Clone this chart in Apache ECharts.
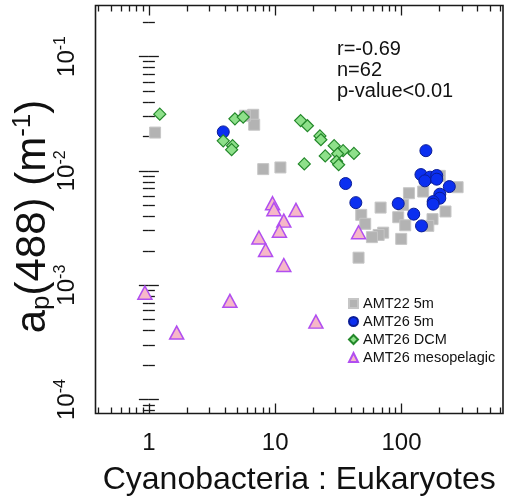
<!DOCTYPE html>
<html>
<head>
<meta charset="utf-8">
<script src="https://cdn.jsdelivr.net/npm/echarts@6/dist/echarts.min.js"></script>
<style>
  html, body { margin: 0; padding: 0; background: #fff; }
  #chart { width: 506px; height: 504px; }
</style>
</head>
<body>
<div id="chart"></div>
<script>
// Cyanobacteria : Eukaryotes ratio (x) against particulate absorption ap(488) in m^-1 (y)
const amt22_5m_ratio = [1.12, 6.7, 6.82, 5.75, 8.04, 11.0, 201, 278, 114.5, 148.5, 103, 68.3,
  48.0, 51.6, 94.2, 107, 176, 163, 223, 71.6, 65.9, 58.3, 99.5, 45.7];
const amt22_5m_ap = [0.0216, 0.0309, 0.0253, 0.0303, 0.01035, 0.0107, 0.00904, 0.00719, 0.00637,
  0.00659, 0.00504, 0.00477, 0.00412, 0.00344, 0.00393, 0.00334, 0.00378, 0.00330, 0.00441,
  0.00288, 0.00275, 0.00263, 0.00254, 0.00174];

const amt26_5m_ratio = [3.88, 156, 142.5, 168, 190, 153, 190, 36.1, 239, 201, 201, 178, 178,
  43.5, 94.2, 125, 144];
const amt26_5m_ap = [0.0219, 0.0150, 0.00927, 0.00880, 0.0091, 0.00817, 0.00845, 0.00774,
  0.00728, 0.00625, 0.00576, 0.00538, 0.00511, 0.00527, 0.00517, 0.00418, 0.00330];

const amt26_dcm_ratio = [1.22, 4.8, 5.58, 3.88, 4.6, 4.52, 15.9, 18.0, 22.6, 23.0, 29.3, 34.5,
  31.2, 42.0, 24.9, 17.0, 30.6, 31.8];
const amt26_dcm_ap = [0.0313, 0.0285, 0.0295, 0.0183, 0.0166, 0.0153, 0.0275, 0.0248, 0.0202,
  0.0187, 0.0166, 0.0150, 0.0141, 0.0142, 0.0135, 0.0115, 0.0121, 0.0113];

const amt26_meso_ratio = [9.53, 9.77, 14.6, 11.7, 10.8, 7.43, 8.39, 11.7, 45.7, 0.93, 4.38, 21.0, 1.66];
const amt26_meso_ap = [0.00521, 0.00462, 0.00455, 0.00367, 0.00299, 0.00261, 0.00203, 0.00150,
  0.0029, 0.00086, 0.00073, 0.00048, 0.000385];

const seriesNames = ['AMT22 5m', 'AMT26 5m', 'AMT26 DCM', 'AMT26 mesopelagic'];
const statsLines = ['r=-0.69', 'n=62', 'p-value<0.01'];
const xTitle = 'Cyanobacteria : Eukaryotes';

// Axis limits (data units)
const xLimits = [0.378, 636];
const yLimits = [7.55e-5, 0.279];
const xDecades = [0, 1, 2];          // 1, 10, 100
const yDecades = [-4, -3, -2, -1];   // 10^-4 .. 10^-1

const FONT = 'Liberation Sans, Arial, Helvetica, sans-serif';
const lg = Math.log10;

// Both axes run in log10 space; points are transformed before plotting
function toPoints(xs, ys) {
  return xs.map((x, i) => [lg(x), lg(ys[i])]);
}

// 2..9 sub-divisions of every decade inside the range
function minorValues(lo, hi) {
  const out = [];
  for (let d = Math.floor(lo) - 1; d <= Math.ceil(hi); d++) {
    for (let k = 2; k <= 9; k++) {
      const v = d + lg(k);
      if (v > lo && v < hi) out.push(v);
    }
  }
  return out;
}

const xr = [lg(xLimits[0]), lg(xLimits[1])];
const yr = [lg(yLimits[0]), lg(yLimits[1])];
const xMinor = minorValues(xr[0], xr[1]);
const yMinor = minorValues(yr[0], yr[1]);

const tickColor = '#1a1a1a';
const plotBox = { left: 95.5, right: 3, top: 5.5, bottom: 90.5, outerBoundsMode: 'none', containLabel: false };

function axisBase(range, gridIndex, position) {
  return {
    type: 'value', min: range[0], max: range[1], gridIndex: gridIndex, position: position,
    axisLine: { show: false },
    splitLine: { show: false },
  };
}

function tickOnly(range, gridIndex, position, values, len) {
  return Object.assign(axisBase(range, gridIndex, position), {
    axisTick: { show: true, inside: true, length: len, customValues: values,
      lineStyle: { color: tickColor, width: 1.3 } },
    axisLabel: { show: false }
  });
}

// Grid 0 carries data, labels and the frame; grids 1-3 overlay the remaining tick sets
const grids = [
  Object.assign({ show: true, borderColor: '#1a1a1a', borderWidth: 1.6, backgroundColor: 'transparent' }, plotBox),
  Object.assign({}, plotBox),
  Object.assign({}, plotBox),
  Object.assign({}, plotBox)
];

const xAxes = [
  Object.assign(axisBase(xr, 0, 'bottom'), {
    axisTick: { show: true, inside: true, length: 10, customValues: xDecades,
      lineStyle: { color: tickColor, width: 1.3 } },
    axisLabel: {
      show: true, customValues: xDecades, margin: 18,
      formatter: v => String(Math.round(Math.pow(10, v))),
      fontSize: 24, fontFamily: FONT, color: '#111'
    },
    name: xTitle, nameLocation: 'middle', nameGap: 51,
    nameTextStyle: { fontSize: 32, fontFamily: FONT, color: '#111' }
  }),
  tickOnly(xr, 1, 'top', xDecades, 10),
  tickOnly(xr, 2, 'bottom', xMinor, 6),
  tickOnly(xr, 3, 'top', xMinor, 6)
];

const yAxes = [
  Object.assign(axisBase(yr, 0, 'left'), {
    axisTick: { show: true, inside: true, length: 10, customValues: yDecades,
      lineStyle: { color: tickColor, width: 1.3 } },
    axisLabel: {
      show: true, customValues: yDecades, margin: 13, rotate: 90,
      formatter: v => '{b|10}{s|' + Math.round(v) + '}',
      rich: {
        b: { fontSize: 24, fontFamily: FONT, color: '#111' },
        s: { fontSize: 16, fontFamily: FONT, color: '#111', padding: [0, 0, 14, 0] }
      }
    },
    name: '{a|a}{sub|p}{a|(488) (m}{sup|-1}{a|)}',
    nameLocation: 'middle', nameGap: 38, nameRotate: 90, nameMoveOverlap: false,
    nameTextStyle: {
      padding: [0, 14, 0, 0],
      rich: {
        a: { fontSize: 42, fontFamily: FONT, color: '#111' },
        sub: { fontSize: 26, fontFamily: FONT, color: '#111', padding: [16, 0, 0, 0] },
        sup: { fontSize: 26, fontFamily: FONT, color: '#111', padding: [0, 0, 22, 0] }
      }
    }
  }),
  tickOnly(yr, 1, 'right', yDecades, 10),
  tickOnly(yr, 2, 'left', yMinor, 6),
  tickOnly(yr, 3, 'right', yMinor, 6)
];

const chart = echarts.init(document.getElementById('chart'), null, { renderer: 'canvas' });

chart.setOption({
  animation: false,
  backgroundColor: '#fff',
  grid: grids,
  xAxis: xAxes,
  yAxis: yAxes,
  legend: {
    data: seriesNames,
    orient: 'vertical', left: 343, top: 291,
    itemWidth: 9, itemHeight: 9, itemGap: 3,
    textStyle: { fontSize: 14.5, fontFamily: FONT, color: '#111', lineHeight: 15 }
  },
  graphic: [{
    type: 'text', left: 337, top: 39,
    style: { text: statsLines.join('\n'), fontSize: 20, fontFamily: FONT, lineHeight: 21, fill: '#111' }
  }],
  series: [
    {
      name: seriesNames[0], type: 'scatter', symbol: 'rect', symbolSize: 11,
      data: toPoints(amt22_5m_ratio, amt22_5m_ap),
      itemStyle: { color: '#b3b3b3', borderColor: '#c6c6c6', borderWidth: 1, opacity: 1 }
    },
    {
      name: seriesNames[1], type: 'scatter', symbol: 'circle', symbolSize: 12,
      data: toPoints(amt26_5m_ratio, amt26_5m_ap),
      itemStyle: { color: '#0b2ff0', borderColor: '#0a1c96', borderWidth: 1, opacity: 1 }
    },
    {
      name: seriesNames[2], type: 'scatter', symbol: 'diamond', symbolSize: 12,
      data: toPoints(amt26_dcm_ratio, amt26_dcm_ap),
      itemStyle: { color: '#8ee08a', borderColor: '#23882a', borderWidth: 1.2, opacity: 1 }
    },
    {
      name: seriesNames[3], type: 'scatter', symbol: 'triangle', symbolSize: [14, 13],
      data: toPoints(amt26_meso_ratio, amt26_meso_ap),
      itemStyle: { color: '#f6b8c8', borderColor: '#b14ef0', borderWidth: 1.5, opacity: 1 }
    }
  ]
});
</script>
</body>
</html>
